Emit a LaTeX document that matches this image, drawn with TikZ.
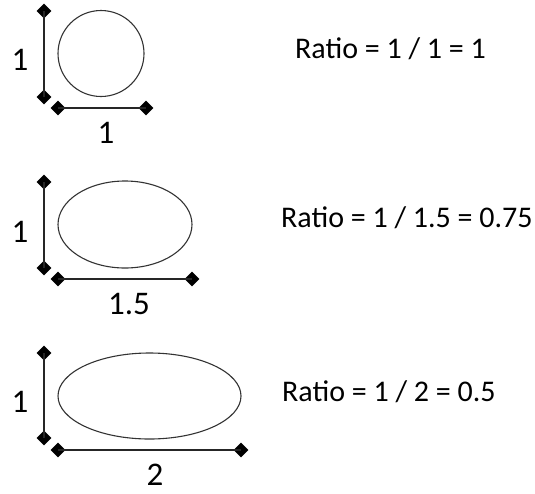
\documentclass[tikz,border=0pt]{standalone}
\usepackage{fontspec}
\setmainfont{Carlito}
\usetikzlibrary{shapes.geometric}
\tikzset{
  tip/.style={diamond,fill=black,draw=none,inner sep=0pt,minimum size=15pt},
  dimline/.style={line width=1.7pt,black!85},
  shapeline/.style={line width=1.1pt,black!80},
  lbl/.style={inner sep=0pt,font=\fontsize{33}{33}\selectfont,anchor=base},
  ratio/.style={inner sep=0pt,font=\fontsize{30}{30}\selectfont,anchor=base west}
}
\begin{document}
\begin{tikzpicture}[x=1pt,y=-1pt]
\useasboundingbox (0,0) rectangle (535,493);
% ---- figure 1
\node[tip] (a1) at (44,11) {};
\node[tip] (a2) at (44,97) {};
\node[tip] (b1) at (58,108) {};
\node[tip] (b2) at (146,108) {};
\draw[dimline] (a1.center) -- (a2.center);
\draw[dimline] (b1.center) -- (b2.center);
\draw[shapeline] (101,53.5) circle (43);
\node[lbl] (l1) at (20,70) {1};
\node[lbl] (l2) at (106,143) {1};
\node[ratio] (r1) at (295,58) {Ratio = 1 / 1 = 1};
% ---- figure 2
\node[tip] (c1) at (44,182) {};
\node[tip] (c2) at (44,268) {};
\node[tip] (d1) at (58,279) {};
\node[tip] (d2) at (192,279) {};
\draw[dimline] (c1.center) -- (c2.center);
\draw[dimline] (d1.center) -- (d2.center);
\draw[shapeline] (125,224.5) ellipse [x radius=67,y radius=43.5];
\node[lbl] (l3) at (20,242) {1};
\node[lbl] (l4) at (129,314) {1.5};
\node[ratio] (r2) at (281,227) {Ratio = 1 / 1.5 = 0.75};
% ---- figure 3
\node[tip] (e1) at (44,353) {};
\node[tip] (e2) at (44,438) {};
\node[tip] (f1) at (58,450) {};
\node[tip] (f2) at (241,450) {};
\draw[dimline] (e1.center) -- (e2.center);
\draw[dimline] (f1.center) -- (f2.center);
\draw[shapeline] (149.5,396) ellipse [x radius=91.5,y radius=43];
\node[lbl] (l5) at (20,412) {1};
\node[lbl] (l6) at (155,485) {2};
\node[ratio] (r3) at (282,401) {Ratio = 1 / 2 = 0.5};
\end{tikzpicture}
\end{document}
